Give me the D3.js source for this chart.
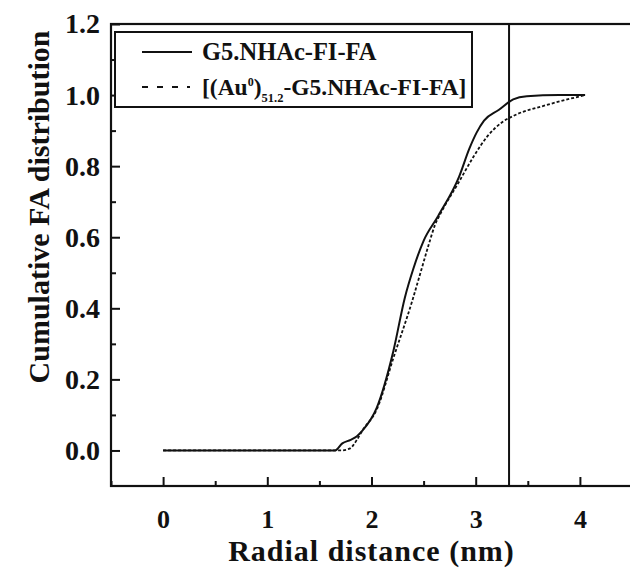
<!DOCTYPE html>
<html>
<head>
<meta charset="utf-8">
<script src="https://cdn.jsdelivr.net/npm/d3@7"></script>
<style>
  body { margin: 0; background: #fff; overflow: hidden; }
  text { font-family: "Liberation Serif", "Times New Roman", serif; font-weight: bold; fill: #111; }
</style>
</head>
<body>
<script>
// values (radial distance nm, cumulative FA)
const solidX = [0, 1.65, 1.72, 1.80, 1.86, 1.91, 2.05, 2.21, 2.32, 2.40, 2.50, 2.64, 2.84, 2.94, 3.01, 3.08, 3.22, 3.36, 3.49, 3.80, 4.05];
const solidY = [0, 0, 0.02, 0.03, 0.04, 0.055, 0.12, 0.28, 0.43, 0.51, 0.59, 0.66, 0.77, 0.85, 0.895, 0.928, 0.958, 0.988, 0.997, 1.0, 1.0];
const dashX = [0, 1.70, 1.79, 1.86, 1.91, 2.05, 2.21, 2.39, 2.47, 2.55, 2.61, 2.66, 2.84, 2.98, 3.11, 3.26, 3.38, 3.68, 4.05];
const dashY = [0, 0, 0.005, 0.03, 0.055, 0.115, 0.26, 0.42, 0.50, 0.58, 0.635, 0.665, 0.756, 0.827, 0.883, 0.925, 0.944, 0.972, 1.0];
const markerX = 3.32;
const xTicks = [0, 1, 2, 3, 4];
const xMinor = [-0.5, 0.5, 1.5, 2.5, 3.5, 4.5];
const yTicks = [0, 0.2, 0.4, 0.6, 0.8, 1.0, 1.2];
const yMinor = [0.1, 0.3, 0.5, 0.7, 0.9, 1.1];
const seriesNames = ["G5.NHAc-FI-FA", "[(Au0)51.2-G5.NHAc-FI-FA]"];

const W = 630, H = 571;
const plotL = 111, plotR = 632, plotT = 24, plotB = 486;

const svg = d3.select("body").append("svg")
  .attr("width", W)
  .attr("height", H);

const x = d3.scaleLinear().domain([-0.5, 4.5]).range([plotL, plotR]);
const y = d3.scaleLinear().domain([-0.1, 1.2]).range([plotB, plotT]);

// minor ticks
svg.append("g")
  .attr("transform", `translate(0,${plotB})`)
  .call(d3.axisBottom(x).tickValues(xMinor).tickSize(-5).tickFormat(""))
  .call(g => g.select(".domain").remove());
svg.append("g")
  .attr("transform", `translate(${plotL},0)`)
  .call(d3.axisLeft(y).tickValues(yMinor).tickSize(-5).tickFormat(""))
  .call(g => g.select(".domain").remove());

// major ticks with labels
const xAxis = svg.append("g")
  .attr("transform", `translate(0,${plotB})`)
  .call(d3.axisBottom(x).tickValues(xTicks).tickSize(-9).tickPadding(24).tickFormat(d3.format("d")));
xAxis.select(".domain").remove();
xAxis.attr("font-family", null).attr("font-size", null);
xAxis.selectAll("text").style("font-size", "26px");

const yAxis = svg.append("g")
  .attr("transform", `translate(${plotL},0)`)
  .call(d3.axisLeft(y).tickValues(yTicks).tickSize(-9).tickPadding(11).tickFormat(d3.format(".1f")));
yAxis.select(".domain").remove();
yAxis.attr("font-family", null).attr("font-size", null);
yAxis.selectAll("text").style("font-size", "28px");

svg.selectAll(".tick line").attr("stroke", "#111").attr("stroke-width", 2);

// frame
svg.append("rect")
  .attr("x", plotL).attr("y", plotT)
  .attr("width", 640 - plotL).attr("height", plotB - plotT)
  .attr("fill", "none").attr("stroke", "#111").attr("stroke-width", 2.2);

// vertical marker
svg.append("line")
  .attr("x1", x(markerX)).attr("x2", x(markerX))
  .attr("y1", y(1.2)).attr("y2", y(-0.1))
  .attr("stroke", "#111").attr("stroke-width", 2);

const line = d3.line()
  .x(d => x(d[0]))
  .y(d => y(d[1]))
  .curve(d3.curveMonotoneX);

svg.append("path")
  .datum(d3.zip(solidX, solidY))
  .attr("d", line)
  .attr("fill", "none").attr("stroke", "#111").attr("stroke-width", 2);

svg.append("path")
  .datum(d3.zip(dashX, dashY))
  .attr("d", line)
  .attr("fill", "none").attr("stroke", "#111").attr("stroke-width", 1.8)
  .attr("stroke-dasharray", "3,2");

// legend
const legend = svg.append("g");
legend.append("rect")
  .attr("x", 115).attr("y", 32).attr("width", 357).attr("height", 75)
  .attr("fill", "#fff").attr("stroke", "#111").attr("stroke-width", 2);
legend.append("line")
  .attr("x1", 142).attr("x2", 192).attr("y1", 52).attr("y2", 52)
  .attr("stroke", "#111").attr("stroke-width", 2);
legend.append("line")
  .attr("x1", 142).attr("x2", 190).attr("y1", 87).attr("y2", 87)
  .attr("stroke", "#111").attr("stroke-width", 2)
  .attr("stroke-dasharray", "6,9");
legend.append("text")
  .attr("x", 202).attr("y", 60)
  .style("font-size", "24.5px")
  .text(seriesNames[0]);
const t2 = legend.append("text")
  .attr("x", 202).attr("y", 95)
  .style("font-size", "23.5px");
t2.append("tspan").text("[(Au");
t2.append("tspan").attr("dy", -9).style("font-size", "12px").text("0");
t2.append("tspan").attr("dy", 9).text(")");
t2.append("tspan").attr("dy", 7).style("font-size", "12.5px").text("51.2");
t2.append("tspan").attr("dy", -7).text("-G5.NHAc-FI-FA]");

// axis titles
svg.append("text")
  .attr("x", (plotL + plotR) / 2).attr("y", 561)
  .attr("text-anchor", "middle")
  .style("font-size", "30px")
  .style("letter-spacing", "1px")
  .text("Radial distance (nm)");
svg.append("text")
  .attr("transform", "translate(49,207) rotate(-90)")
  .attr("text-anchor", "middle")
  .style("font-size", "30px")
  .text("Cumulative FA distribution");
</script>
</body>
</html>
